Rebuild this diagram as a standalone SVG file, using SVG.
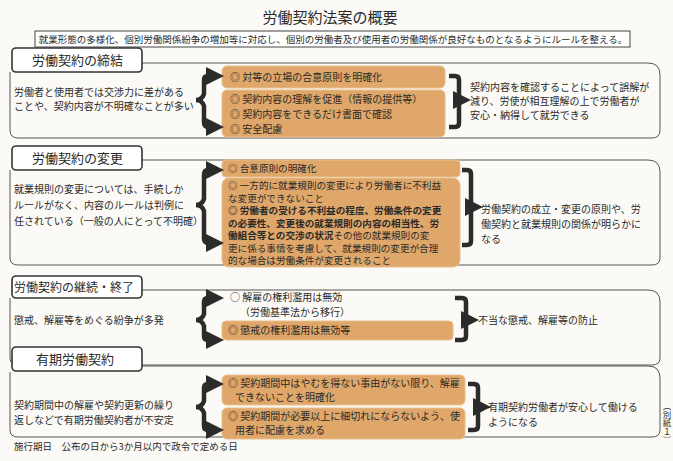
<svg xmlns="http://www.w3.org/2000/svg" width="673" height="461" viewBox="0 0 673 461">
<defs>
<style>
text{font-family:"Noto Sans CJK JP","Noto Sans",sans-serif;fill:#2a2a2a;font-size:10px}
.tab{fill:#fff;stroke:#333;stroke-width:1.6}
.tabt{font-size:13px}
.panel{fill:none;stroke:#555;stroke-width:1}
.or{fill:#dfa769;stroke:#e8c090;stroke-width:1}
.br{fill:none;stroke:#2b2b2b;stroke-width:4.5;stroke-linejoin:round}
.b{font-weight:bold}
.s{font-size:9.6px}
</style>
<marker id="ah" markerWidth="4" markerHeight="4" refX="2" refY="2" orient="auto" markerUnits="strokeWidth"><path d="M0,0L4,2L0,4z" fill="#2b2b2b"/></marker>
</defs>
<rect width="673" height="461" fill="#fbfaf6"/>
<text x="330" y="23" text-anchor="middle" style="font-size:15px">労働契約法案の概要</text>
<rect x="35" y="31" width="595" height="16" fill="#fff" stroke="#444"/>
<text x="333" y="43" text-anchor="middle" style="font-size:9.5px">就業形態の多様化、個別労働関係紛争の増加等に対応し、個別の労働者及び使用者の労働関係が良好なものとなるようにルールを整える。</text>

<g id="s1">
<path class="panel" d="M142,63 H648 Q660,63 660,75 V130 Q660,138 652,138 H18 Q10,138 10,130 V72"/>
<rect class="tab" x="12" y="48" width="130" height="24" rx="4"/>
<text class="tabt" x="32" y="65">労働契約の締結</text>
<rect class="or" x="222" y="66" width="223" height="22" rx="5"/>
<rect class="or" x="222" y="90" width="223" height="47" rx="5"/>
<text x="230" y="81">◎ 対等の立場の合意原則を明確化</text>
<text x="230" y="103">◎ 契約内容の理解を促進（情報の提供等）</text>
<text x="230" y="118">◎ 契約内容をできるだけ書面で確認</text>
<text x="230" y="133">◎ 安全配慮</text>
<text x="14" y="96">労働者と使用者では交渉力に差がある</text>
<text x="14" y="110">ことや、契約内容が不明確なことが多い</text>
<text x="470" y="91">契約内容を確認することによって誤解が</text>
<text x="470" y="105">減り、労使が相互理解の上で労働者が</text>
<text x="470" y="119">安心・納得して就労できる</text>
</g>

<g id="s2">
<path class="panel" d="M142,160 H648 Q660,160 660,172 V258 Q660,265 652,265 H18 Q10,265 10,258 V170"/>
<rect class="tab" x="12" y="146" width="130" height="24" rx="4"/>
<text class="tabt" x="32" y="163">労働契約の変更</text>
<rect class="or" x="222" y="160" width="238" height="17" rx="4"/>
<rect class="or" x="222" y="178" width="238" height="89" rx="7"/>
<text class="s" x="228" y="172">◎ 合意原則の明確化</text>
<text class="s" x="228" y="189">◎ 一方的に就業規則の変更により労働者に不利益</text>
<text class="s" x="228" y="201.5">な変更ができないこと</text>
<text class="s b" x="228" y="214">◎ 労働者の受ける不利益の程度、労働条件の変更</text>
<text class="s b" x="228" y="226.5">の必要性、変更後の就業規則の内容の相当性、労</text>
<text class="s" x="228" y="239"><tspan class="b">働組合等との交渉の状況</tspan>その他の就業規則の変</text>
<text class="s" x="228" y="251.5">更に係る事情を考慮して、就業規則の変更が合理</text>
<text class="s" x="228" y="264">的な場合は労働条件が変更されること</text>
<text x="14" y="193">就業規則の変更については、手続しか</text>
<text x="14" y="209">ルールがなく、内容のルールは判例に</text>
<text x="14" y="225">任されている（一般の人にとって不明確）</text>
<text x="481" y="213">労働契約の成立・変更の原則や、労</text>
<text x="481" y="228">働契約と就業規則の関係が明らかに</text>
<text x="481" y="243">なる</text>
</g>

<g id="s3">
<path class="panel" d="M142,290 H648 Q660,290 660,302 V358 Q660,365 652,365 H18 Q10,365 10,358 V298"/>
<rect class="tab" x="12" y="276" width="130" height="22" rx="4"/>
<text class="tabt" x="14" y="292" style="font-size:12px">労働契約の継続・終了</text>
<text x="230" y="301">○ 解雇の権利濫用は無効</text>
<text x="240" y="316">（労働基準法から移行）</text>
<rect class="or" x="222" y="321" width="231" height="19" rx="4"/>
<text x="228" y="334">◎ 懲戒の権利濫用は無効等</text>
<text x="14" y="324">懲戒、解雇等をめぐる紛争が多発</text>
<text x="478" y="324">不当な懲戒、解雇等の防止</text>
</g>

<g id="s4">
<path class="panel" d="M142,366 H648 Q660,366 660,378 V430 Q660,437 652,437 H18 Q10,437 10,430 V372"/>
<rect class="tab" x="12" y="347" width="130" height="24" rx="4"/>
<text class="tabt" x="36" y="364">有期労働契約</text>
<rect class="or" x="222" y="375" width="243" height="30" rx="5"/>
<rect class="or" x="222" y="408" width="243" height="31" rx="5"/>
<text x="228" y="387">◎ 契約期間中はやむを得ない事由がない限り、解雇</text>
<text x="235" y="401">できないことを明確化</text>
<text x="228" y="420">◎ 契約期間が必要以上に細切れにならないよう、使</text>
<text x="235" y="434">用者に配慮を求める</text>
<text x="14" y="409">契約期間中の解雇や契約更新の繰り</text>
<text x="14" y="424">返しなどで有期労働契約者が不安定</text>
<text x="488" y="411">有期契約労働者が安心して働ける</text>
<text x="488" y="426">ようになる</text>
</g>

<text x="667" y="402" writing-mode="tb" style="font-size:8.5px">（別紙１）</text>
<text x="14" y="450" style="font-size:9.5px">施行期日　公布の日から3か月以内で政令で定める日</text>

<g id="connectors">
<path class="br" marker-end="url(#ah)" d="M196,100 Q202,100 204,94 V80 Q204,76 208,76 H215"/>
<path class="br" marker-end="url(#ah)" d="M196,100 Q202,100 204,106 V122 Q204,127 208,127 H215"/>
<path class="br" d="M449,76 H455 Q459,76 459,80 V123 Q459,127 455,127 H449"/>
<path class="br" marker-end="url(#ah)" d="M459,100 H462"/>

<path class="br" marker-end="url(#ah)" d="M196,205 Q202,205 204,199 V175 Q204,170 208,170 H215"/>
<path class="br" marker-end="url(#ah)" d="M196,205 Q202,205 204,211 V238 Q204,243 208,243 H215"/>
<path class="br" d="M462,170 H467 Q471,170 471,174 V241 Q471,245 467,245 H462"/>
<path class="br" marker-end="url(#ah)" d="M471,207 H474"/>

<path class="br" marker-end="url(#ah)" d="M196,320 Q202,320 204,314 V302 Q204,298 208,298 H215"/>
<path class="br" marker-end="url(#ah)" d="M196,320 Q202,320 204,326 V336 Q204,340 208,340 H215"/>
<path class="br" d="M455,298 H462 Q466,298 466,302 V336 Q466,340 462,340 H455"/>
<path class="br" marker-end="url(#ah)" d="M466,320 H470"/>

<path class="br" marker-end="url(#ah)" d="M196,407 Q202,407 204,401 V388 Q204,384 208,384 H215"/>
<path class="br" marker-end="url(#ah)" d="M196,407 Q202,407 204,413 V426 Q204,430 208,430 H215"/>
<path class="br" d="M468,384 H474 Q478,384 478,388 V426 Q478,430 474,430 H468"/>
<path class="br" marker-end="url(#ah)" d="M478,407 H482"/>
</g>
</svg>
